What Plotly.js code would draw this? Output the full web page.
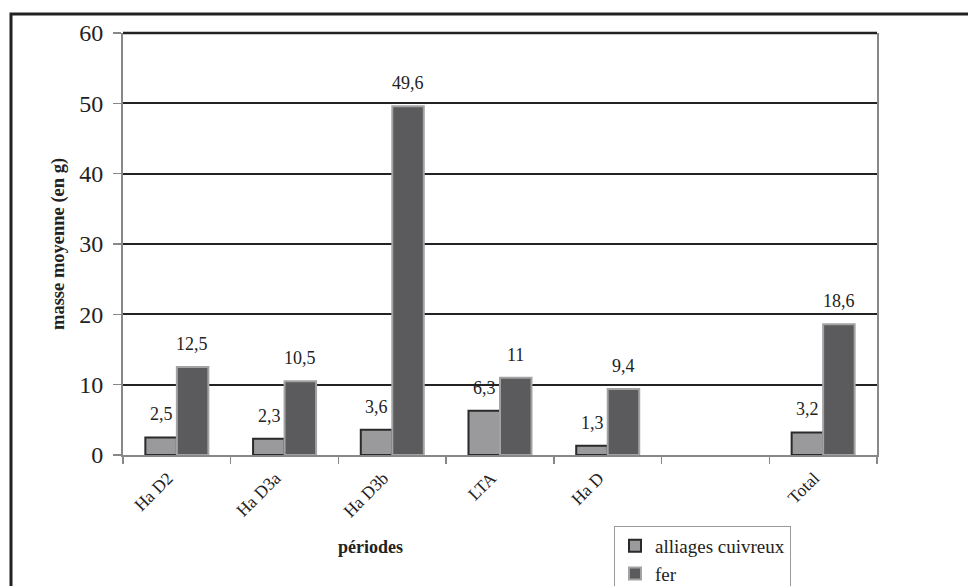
<!DOCTYPE html>
<html>
<head>
<meta charset="utf-8">
<script src="https://cdn.plot.ly/plotly-3.0.1.min.js"></script>
<style>html,body{margin:0;padding:0;background:#fff;}#chart{width:968px;height:586px;}</style>
</head>
<body>
<div id="chart"></div>
<script>
const categories = ["Ha D2", "Ha D3a", "Ha D3b", "LTA", "Ha D", " ", "Total"];
const alliages = [2.5, 2.3, 3.6, 6.3, 1.3, null, 3.2];
const fer = [12.5, 10.5, 49.6, 11, 9.4, null, 18.6];
const seriesNames = ["alliages cuivreux", "fer"];
const yTicks = [0, 10, 20, 30, 40, 50, 60];

const serif = "'Liberation Serif', 'Times New Roman', serif";

const traces = [
  {type: "bar", name: seriesNames[0], x: categories, y: alliages, legendgroup: "a",
   marker: {color: "#9a9a9c", line: {color: "#2a2a2a", width: 2}}},
  {type: "bar", name: seriesNames[1], x: categories, y: fer, legendgroup: "b",
   marker: {color: "#5b5b5d", line: {color: "#a3a3a3", width: 2}}}
];

const fmt = v => String(v).replace(".", ",");
const annotations = [];
[alliages, fer].forEach((arr, s) => {
  arr.forEach((v, i) => {
    if (v === null) return;
    annotations.push({x: categories[i], y: v, xref: "x", yref: "y",
      text: fmt(v), showarrow: false, yanchor: "bottom", xanchor: "center",
      xshift: s === 0 ? -15.5 : 15.5, yshift: 12, borderpad: 0,
      font: {family: serif, size: 18, color: "#222"}});
  });
});
annotations.push({text: "<b>périodes</b>", xref: "paper", yref: "paper",
  x: (370 - 123) / 754, y: (455 - 547) / 422, showarrow: false,
  xanchor: "center", yanchor: "middle", font: {family: serif, size: 18, color: "#222"}});
annotations.push({text: "<b>masse moyenne (en g)</b>", xref: "paper", yref: "paper",
  x: (58 - 123) / 754, y: 0.5, showarrow: false, textangle: -90,
  xanchor: "center", yanchor: "middle", font: {family: serif, size: 18.5, color: "#222"}});

const layout = {
  width: 968, height: 586,
  margin: {l: 123, r: 91, t: 33, b: 131, autoexpand: false},
  paper_bgcolor: "#fff", plot_bgcolor: "#fff",
  barmode: "group", bargap: 0.415, bargroupgap: 0,
  showlegend: true,
  legend: {x: (614 - 123) / 754, y: (455 - 526) / 422,
    xanchor: "left", yanchor: "top",
    bordercolor: "#999", borderwidth: 1, bgcolor: "#fff",
    font: {family: serif, size: 19, color: "#222"}, tracegroupgap: 0, itemwidth: 30},
  xaxis: {type: "category", tickangle: -45, tickson: "boundaries",
    ticks: "outside", ticklen: 7, tickcolor: "#888", tickwidth: 1.5,
    showline: true, linecolor: "#888", linewidth: 2, showgrid: false,
    ticklabelstandoff: 4, ticklabelshift: -9,
    tickfont: {family: serif, size: 17.5, color: "#222"}, automargin: false},
  yaxis: {range: [0, 60], tickvals: yTicks, ticktext: yTicks.map(String),
    ticks: "outside", ticklen: 8, tickcolor: "#888", tickwidth: 1.5,
    showline: true, mirror: true, linecolor: "#888", linewidth: 2,
    showgrid: true, gridcolor: "#222", gridwidth: 2, zeroline: false,
    ticklabelstandoff: 5,
    tickfont: {family: serif, size: 24, color: "#222"}, automargin: false},
  annotations: annotations,
  shapes: [
    {type: "line", xref: "paper", yref: "paper", x0: 0, x1: 1, y0: 1, y1: 1,
     line: {color: "#222", width: 2.5}},
    {type: "rect", xref: "paper", yref: "paper",
     x0: (11 - 123) / 754, x1: (990 - 123) / 754,
     y0: (455 - 620) / 422, y1: (455 - 14) / 422,
     line: {color: "#222", width: 3}, layer: "below"}
  ]
};

Plotly.newPlot("chart", traces, layout, {displayModeBar: false, staticPlot: true});
</script>
</body>
</html>
